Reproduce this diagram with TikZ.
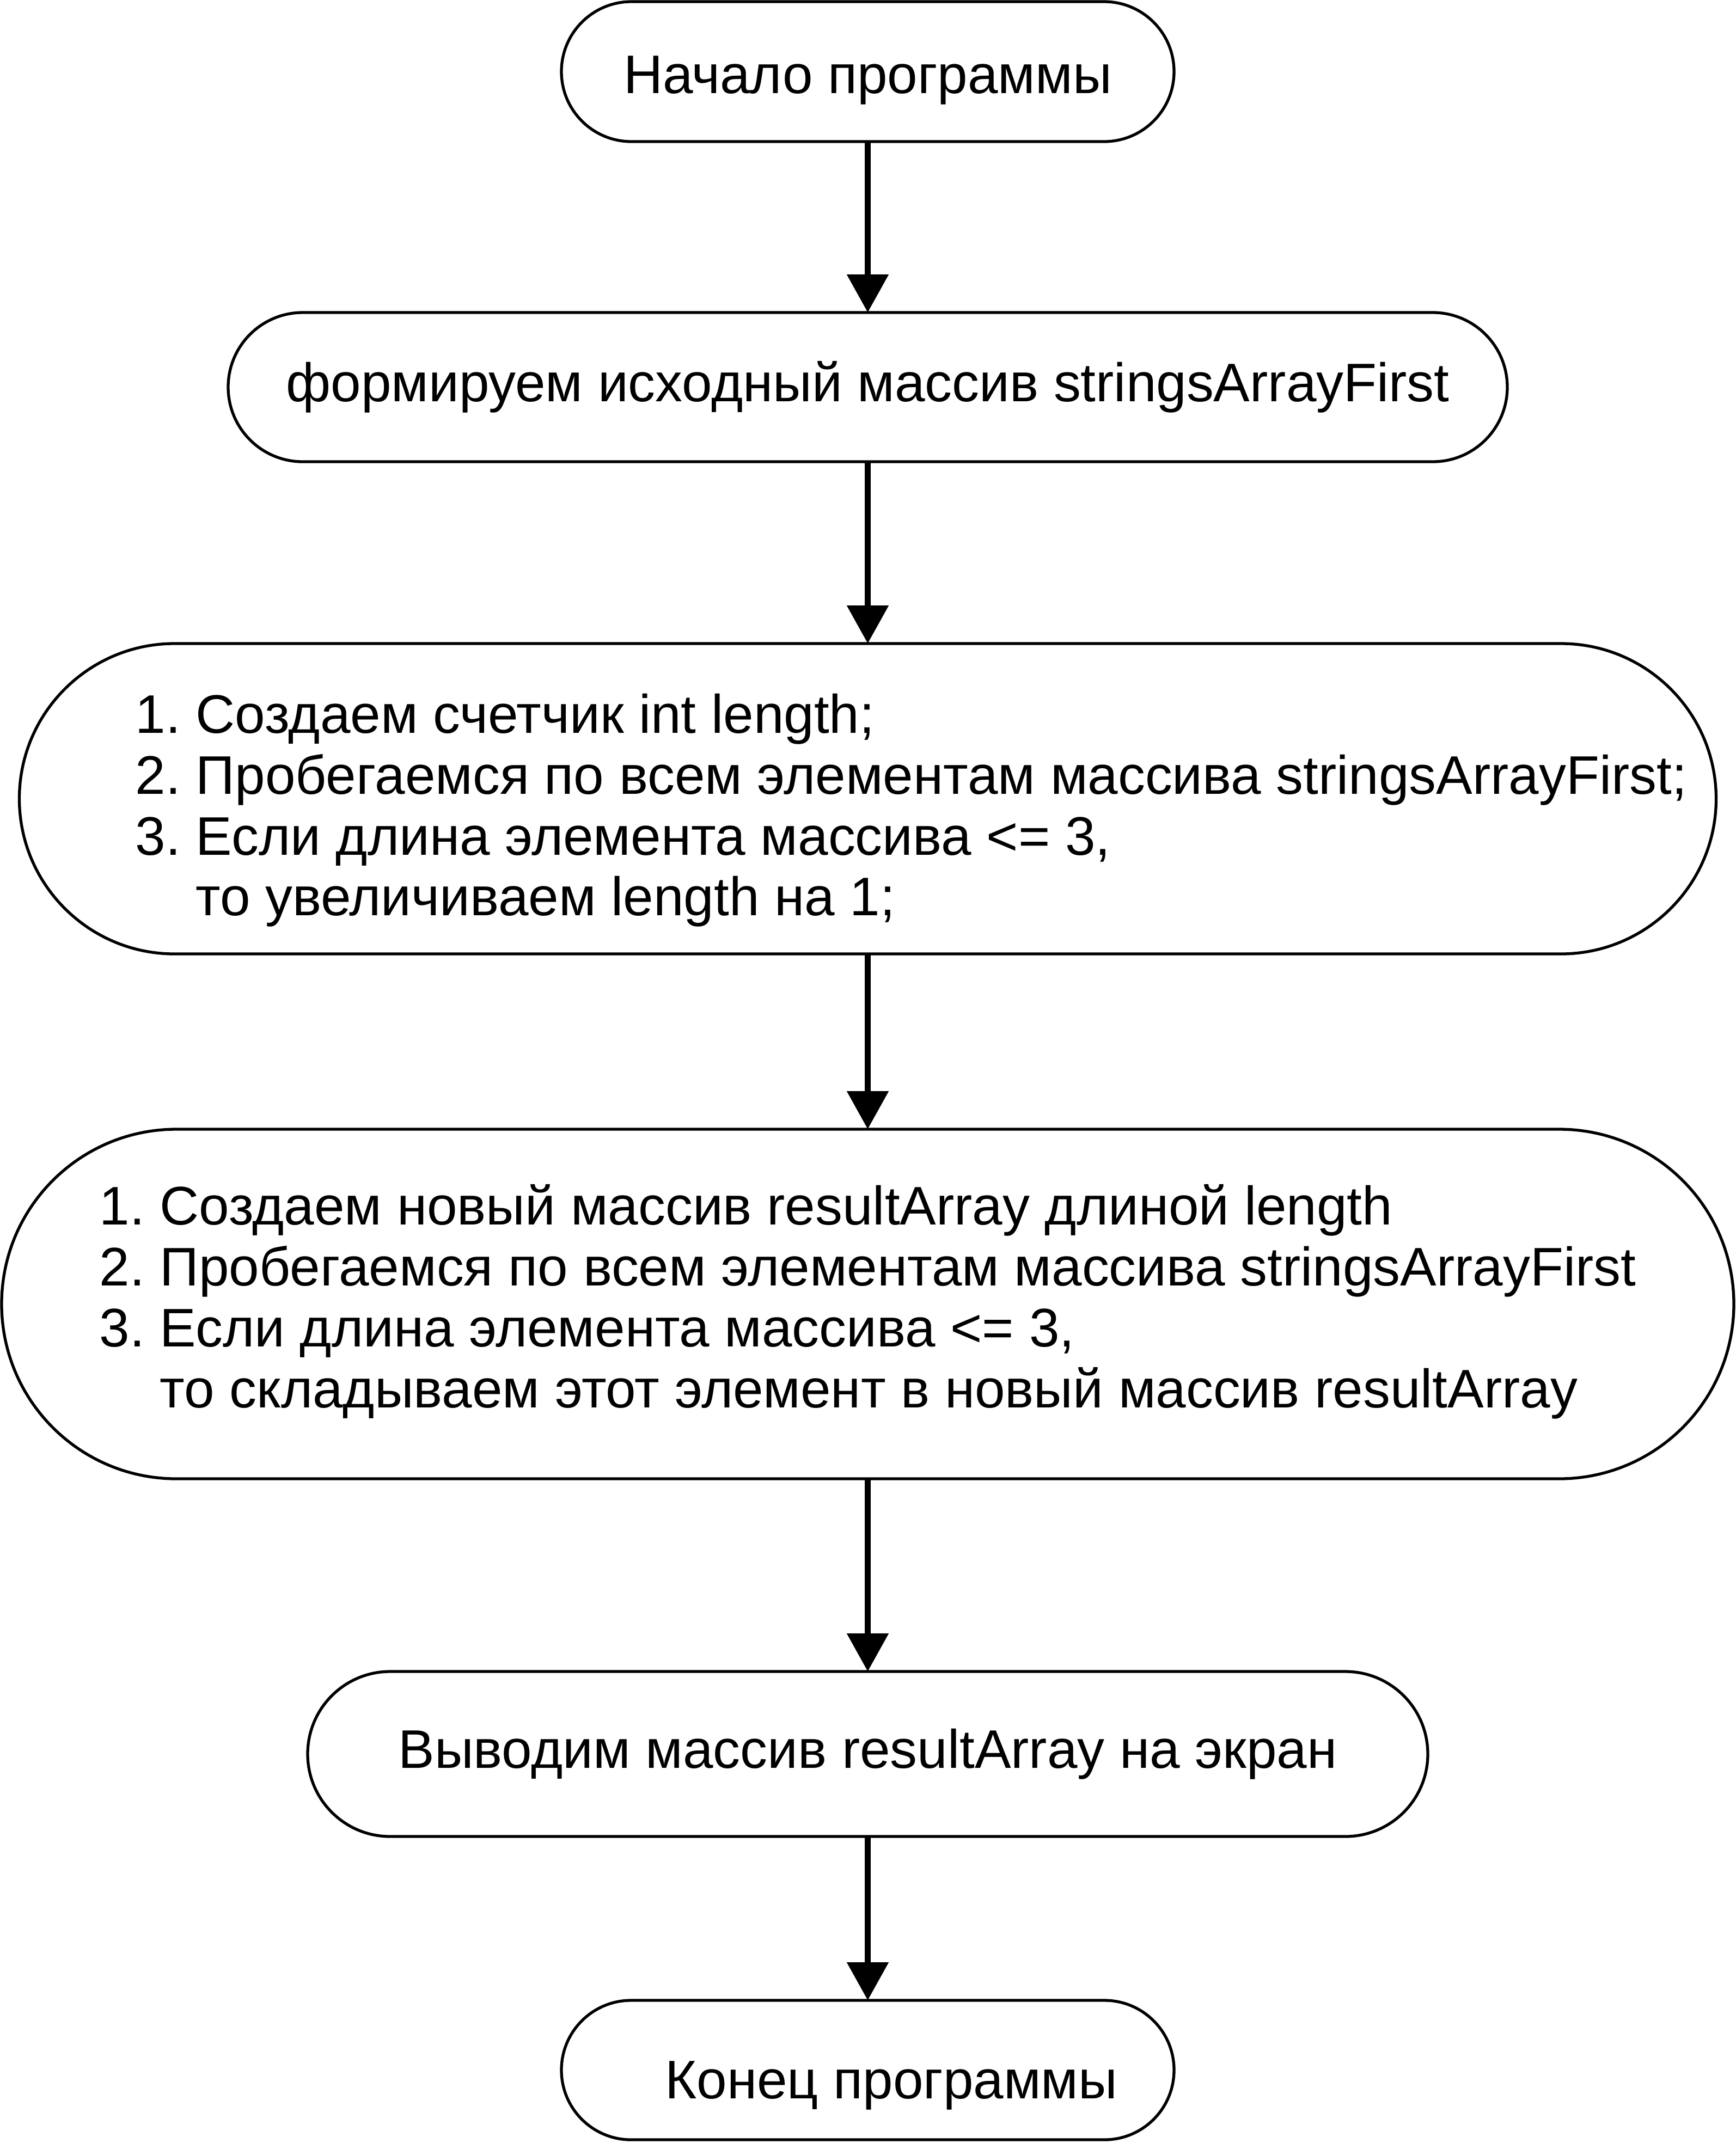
\documentclass[tikz,border=0pt]{standalone}
\usepackage{fontspec}
\setmainfont{Liberation Sans}
\usetikzlibrary{positioning,arrows.meta}

\begin{document}
\begin{tikzpicture}[%
      every node/.style={draw, rectangle, line width=0.75pt, inner sep=0pt, outer sep=0pt,
        font=\fontsize{14.2pt}{15.9pt}\selectfont},
      term/.style 2 args={minimum width=#1, minimum height=#2, rounded corners=0.5*#2},
      node distance=1.6cm, >={Triangle[width=0.37cm,length=0.35cm]}
    ]
    \useasboundingbox (0,0) rectangle (15.94,-19.68);
        \node [] (0) [term={5.625cm}{1.285cm}, text height=0.5cm] at (7.9675,-0.6575) {Начало программы};
    \node [] (1) [term={11.745cm}{1.37cm}, below=1.57cm of 0] {формируем исходный массив stringsArrayFirst};
    \node [] (2) [term={15.58cm}{2.85cm}, below=1.67cm of 1] {%
      \begin{tabular}{@{\hspace{0.8cm}}l@{~}l@{}}
        \rule{0pt}{0.64cm}1. & Создаем счетчик int length;\\
        2. & Пробегаемся по всем элементам массива stringsArrayFirst;\\
        3. & Если длина элемента массива <= 3,\\
           & то увеличиваем length на 1;
      \end{tabular}};
    \node [] (3) [term={15.905cm}{3.21cm}, below=1.61cm of 2] {%
      \begin{tabular}{@{}l@{~}l@{}}
        1. & Создаем новый массив resultArray длиной length\\
        2. & Пробегаемся по всем элементам массива stringsArrayFirst\\
        3. & Если длина элемента массива <= 3,\\
           & то складываем этот элемент в новый массив resultArray
      \end{tabular}};
    \node [] (4) [term={10.285cm}{1.515cm}, below=1.77cm of 3] {Выводим массив resultArray на экран};
    \node [] (5) [term={5.625cm}{1.28cm}, text height=0.625cm, below=1.505cm of 4] {\hspace*{0.435cm}Конец программы};

    \path[line width=1.7pt]
    (0) edge[->] (1)
    (1) edge[->] (2)
    (2) edge[->] (3)
    (3) edge[->] (4)
    (4) edge[->] (5)
    ;
      \end{tikzpicture}
\end{document}
